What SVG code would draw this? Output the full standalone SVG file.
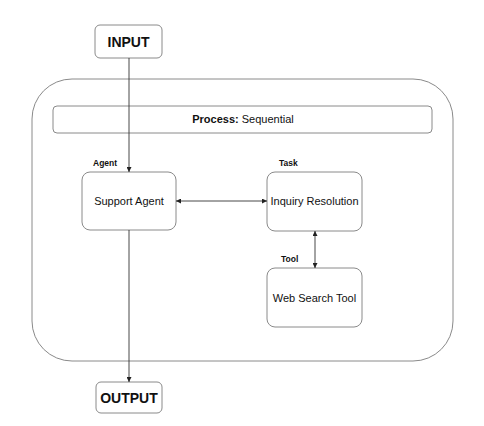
<svg xmlns="http://www.w3.org/2000/svg" width="484" height="426" viewBox="0 0 484 426">
<defs>
<style>
.box{fill:#fff;stroke:#8a8a8a;stroke-width:1}
.t{font-family:"Liberation Sans",Arial,sans-serif;fill:#111;text-anchor:middle}
.big{font-size:14px;font-weight:bold}
.mid{font-size:11px}
.lab{font-size:8.5px;font-weight:bold;font-family:"Liberation Sans",Arial,sans-serif;fill:#111}
.c{stroke:#333;stroke-width:0.9;fill:none}
</style>
<marker id="ah" viewBox="0 0 6 6" refX="6" refY="3" markerWidth="5" markerHeight="5" orient="auto-start-reverse" markerUnits="userSpaceOnUse">
<path d="M0,0 L6,3 L0,6 Z" fill="#222"/>
</marker>
</defs>
<rect width="484" height="426" fill="#fff"/>
<g id="container">
<rect class="box" x="32" y="79" width="421" height="282" rx="40"/>
</g>
<g id="process">
<rect class="box" x="53" y="106" width="379" height="27" rx="4"/>
<text class="t mid" x="243" y="123"><tspan font-weight="bold">Process:</tspan> Sequential</text>
</g>
<g id="input">
<rect class="box" x="95" y="25" width="67" height="33" rx="5"/>
<text class="t big" x="128.5" y="46.5">INPUT</text>
</g>
<g id="agent">
<text class="lab" x="93" y="166">Agent</text>
<rect class="box" x="82" y="172" width="94" height="58" rx="8"/>
<text class="t mid" x="129" y="205">Support Agent</text>
</g>
<g id="task">
<text class="lab" x="279" y="166">Task</text>
<rect class="box" x="267" y="172" width="95" height="59" rx="8"/>
<text class="t mid" x="314.5" y="205">Inquiry Resolution</text>
</g>
<g id="tool">
<text class="lab" x="281" y="262">Tool</text>
<rect class="box" x="267" y="268" width="95" height="59" rx="8"/>
<text class="t mid" x="314.5" y="302">Web Search Tool</text>
</g>
<g id="output">
<rect class="box" x="96" y="382" width="66" height="31" rx="5"/>
<text class="t big" x="129" y="402.5">OUTPUT</text>
</g>
<g id="connectors">
<line class="c" x1="129" y1="58" x2="129" y2="172" marker-end="url(#ah)"/>
<line class="c" x1="176" y1="201" x2="267" y2="201" marker-start="url(#ah)" marker-end="url(#ah)"/>
<line class="c" x1="315" y1="231" x2="315" y2="268" marker-start="url(#ah)" marker-end="url(#ah)"/>
<line class="c" x1="129" y1="230" x2="129" y2="382" marker-end="url(#ah)"/>
</g>
</svg>
